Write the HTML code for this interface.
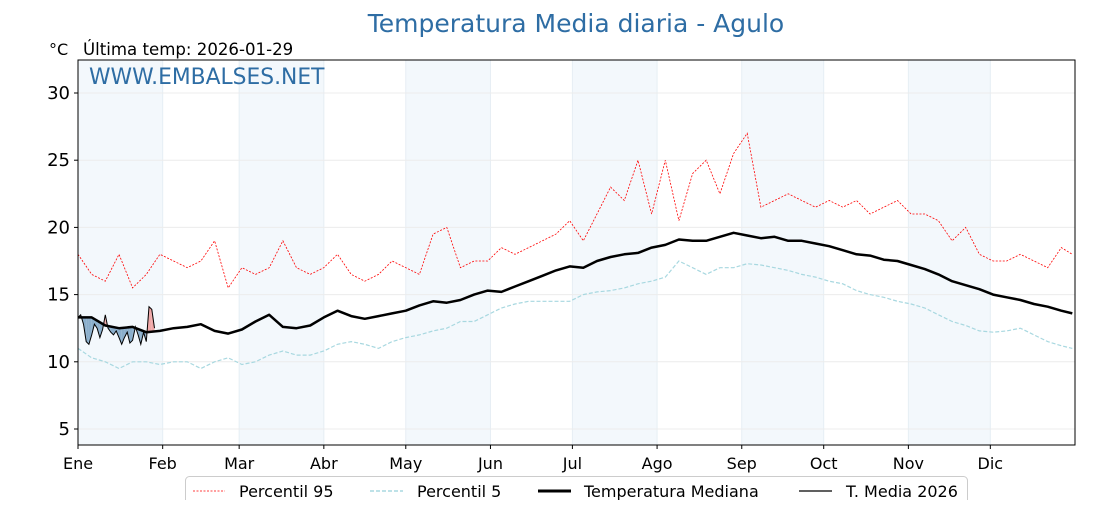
<!DOCTYPE html>
<html><head><meta charset="utf-8"><style>
body{margin:0;background:#fff;}
svg text{font-family:"DejaVu Sans","Liberation Sans",sans-serif;}
</style></head><body>
<svg id="c" width="1120" height="500" xmlns="http://www.w3.org/2000/svg">
<text x="576" y="32" font-size="25" fill="#2e6da4" text-anchor="middle">Temperatura Media diaria - Agulo</text>
<text x="49" y="55" font-size="16" fill="#000">°C</text>
<text x="83" y="55" font-size="16.6" fill="#000">Última temp: 2026-01-29</text>
<g id="bands"></g><g id="grid"></g><g id="series"></g>
<rect x="78" y="60" width="997" height="385" fill="none" stroke="#000" stroke-width="1"/>
<text x="89" y="84" font-size="21.8" fill="#2e6da4">WWW.EMBALSES.NET</text>
<g id="axes"></g>
<g>
<rect x="185.5" y="476.5" width="782" height="30" rx="4" fill="#fff" stroke="#ccc"/>
<line x1="193" y1="491" x2="225" y2="491" stroke="red" stroke-width="0.8" stroke-dasharray="2,1.5"/>
<text x="239" y="497" font-size="16">Percentil 95</text>
<line x1="370" y1="491" x2="403" y2="491" stroke="#a8d8e0" stroke-width="1.5" stroke-dasharray="4,2"/>
<text x="417" y="497" font-size="16">Percentil 5</text>
<line x1="538" y1="491" x2="571" y2="491" stroke="#000" stroke-width="3"/>
<text x="584" y="497" font-size="16">Temperatura Mediana</text>
<line x1="799" y1="491" x2="832" y2="491" stroke="#000" stroke-width="1.2"/>
<text x="846" y="497" font-size="16">T. Media 2026</text>
</g>
</svg>
<script>
const sampleDays=[0,5,10,15,20,25,30,35,40,45,50,55,60,65,70,75,80,85,90,95,100,105,110,115,120,125,130,135,140,145,150,155,160,165,170,175,180,185,190,195,200,205,210,215,220,225,230,235,240,245,250,255,260,265,270,275,280,285,290,295,300,305,310,315,320,325,330,335,340,345,350,355,360,364];
const median=[13.3,13.3,12.7,12.5,12.6,12.2,12.3,12.5,12.6,12.8,12.3,12.1,12.4,13.0,13.5,12.6,12.5,12.7,13.3,13.8,13.4,13.2,13.4,13.6,13.8,14.2,14.5,14.4,14.6,15.0,15.3,15.2,15.6,16.0,16.4,16.8,17.1,17.0,17.5,17.8,18.0,18.1,18.5,18.7,19.1,19.0,19.0,19.3,19.6,19.4,19.2,19.3,19.0,19.0,18.8,18.6,18.3,18.0,17.9,17.6,17.5,17.2,16.9,16.5,16.0,15.7,15.4,15.0,14.8,14.6,14.3,14.1,13.8,13.6];
const p95=[18,16.5,16,18,15.5,16.5,18,17.5,17,17.5,19,15.5,17,16.5,17,19,17,16.5,17,18,16.5,16,16.5,17.5,17,16.5,19.5,20,17,17.5,17.5,18.5,18,18.5,19,19.5,20.5,19,21,23,22,25,21,25,20.5,24,25,22.5,25.5,27,21.5,22,22.5,22,21.5,22,21.5,22,21,21.5,22,21,21,20.5,19,20,18,17.5,17.5,18,17.5,17,18.5,18];
const p5=[11,10.3,10,9.5,10,10,9.8,10,10,9.5,10,10.3,9.8,10,10.5,10.8,10.5,10.5,10.8,11.3,11.5,11.3,11,11.5,11.8,12,12.3,12.5,13,13,13.5,14,14.3,14.5,14.5,14.5,14.5,15,15.2,15.3,15.5,15.8,16,16.3,17.5,17,16.5,17,17,17.3,17.2,17,16.8,16.5,16.3,16,15.8,15.3,15,14.8,14.5,14.3,14,13.5,13,12.7,12.3,12.2,12.3,12.5,12,11.5,11.2,11];
const t2026=[13.3,13.5,12.8,11.5,11.3,12.0,12.8,12.5,11.8,12.4,13.5,12.5,12.2,12.0,12.3,11.8,11.3,11.8,12.2,11.4,11.6,12.6,12.0,11.3,12.2,11.5,14.1,13.9,12.5];
const monthLabels=["Ene","Feb","Mar","Abr","May","Jun","Jul","Ago","Sep","Oct","Nov","Dic"];
const monthStarts=[0,31,59,90,120,151,181,212,243,273,304,334,365];
const yTicks=[5,10,15,20,25,30];

const NS="http://www.w3.org/2000/svg";
const X0=78,X1=1075,Y0=60,Y1=445;
const xs=d=>X0+d*(X1-X0)/365;
const ys=v=>429-(v-5)*13.44;
function mk(tag,attrs,parent){const e=document.createElementNS(NS,tag);for(const k in attrs)e.setAttribute(k,attrs[k]);document.getElementById(parent).appendChild(e);return e;}
function interp(d){for(let i=0;i<sampleDays.length-1;i++){if(d>=sampleDays[i]&&d<=sampleDays[i+1]){const t=(d-sampleDays[i])/(sampleDays[i+1]-sampleDays[i]);return median[i]+t*(median[i+1]-median[i]);}}return median[median.length-1];}

for(let m=0;m<12;m+=2){
  const r=mk('rect',{x:xs(monthStarts[m]),y:Y0,width:xs(monthStarts[m+1])-xs(monthStarts[m]),height:Y1-Y0,fill:'#f3f8fc'},'bands');
  
  
}
for(let m=0;m<12;m++){
  const l=mk('line',{x1:xs(monthStarts[m]),x2:xs(monthStarts[m]),y1:Y0,y2:Y1,stroke:'#e6eef4','stroke-width':1},'grid');
  
  
  const t=mk('text',{x:xs(monthStarts[m]),y:469,'font-size':16,'text-anchor':'middle'},'axes');
  t.textContent=monthLabels[m];
  
  
  mk('line',{x1:xs(monthStarts[m]),x2:xs(monthStarts[m]),y1:Y1,y2:Y1+4,stroke:'#000'},'axes');
}
yTicks.forEach(v=>{
  const l=mk('line',{x1:X0,x2:X1,y1:ys(v),y2:ys(v),stroke:'#ececec','stroke-width':1},'grid');
  
  
  mk('line',{x1:X0-4,x2:X0,y1:ys(v),y2:ys(v),stroke:'#000'},'axes');
  const t=mk('text',{x:X0-8,y:ys(v)+6,'font-size':18,'text-anchor':'end'},'axes');
  t.textContent=v;
  
  
});
function line(days,vals,attrs,name){
  const d=vals.map((v,i)=>(i?'L':'M')+xs(days[i]).toFixed(1)+','+ys(v).toFixed(1)).join('');
  const p=mk('path',Object.assign({d:d,fill:'none'},attrs),'series');
  
  
}
line(sampleDays,p95,{stroke:'red','stroke-width':0.8,'stroke-dasharray':'2,1.5'},'p95-line');
line(sampleDays,p5,{stroke:'#a8d8e0','stroke-width':1.2,'stroke-dasharray':'4,2'},'p5-line');
for(let i=0;i<t2026.length-1;i++){
  const m0=interp(i),m1=interp(i+1);
  const diff=(t2026[i]-m0)+(t2026[i+1]-m1);
  const pts=[[xs(i),ys(t2026[i])],[xs(i+1),ys(t2026[i+1])],[xs(i+1),ys(m1)],[xs(i),ys(m0)]].map(p=>p.join(',')).join(' ');
  const pg=mk('polygon',{points:pts,fill:diff<0?'#8aaecb':'#f0a8a8',stroke:'none'},'series');
  
  
}
line(sampleDays,median,{stroke:'#000','stroke-width':2.5,'stroke-linejoin':'round'},'median-line');
line(t2026.map((v,i)=>i),t2026,{stroke:'#000','stroke-width':1},'t2026-line');
</script>
</body></html>
